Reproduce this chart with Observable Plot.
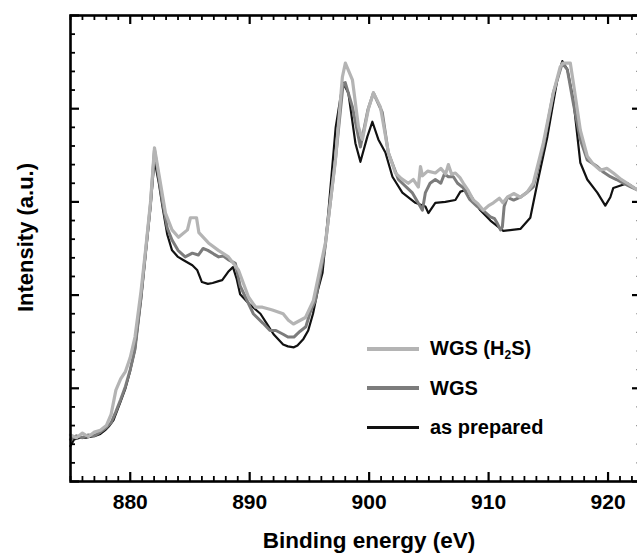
<!DOCTYPE html>
<html>
<head>
<meta charset="utf-8">
<script src="https://cdn.jsdelivr.net/npm/d3@7"></script>
<script src="https://cdn.jsdelivr.net/npm/@observablehq/plot@0.6"></script>
<style>
html, body { margin: 0; padding: 0; background: #fff; overflow: hidden; }
#wrap { position: relative; width: 637px; height: 554px; overflow: hidden; }
#wrap svg { display: block; }
#wrap svg text { font-family: Arial, "Liberation Sans", sans-serif; font-weight: bold; fill: #000; }
.legend { position: absolute; left: 367px; top: 329px; font-family: Arial, "Liberation Sans", sans-serif; font-weight: bold; font-size: 20px; color: #000; }
.legend .row { display: flex; align-items: center; height: 39.5px; }
.legend .sw { width: 52px; height: 3px; margin-right: 11px; }
.legend sub { font-size: 12px; vertical-align: -4px; line-height: 0; }
</style>
</head>
<body>
<div id="wrap"></div>
<script>
// Series names and colours
const seriesNames = ["WGS (H2S)", "WGS", "as prepared"];
const seriesLabelsHtml = ["WGS (H<sub>2</sub>S)", "WGS", "as prepared"];
const seriesColors = ["#b4b4b4", "#7c7c7c", "#111111"];
const seriesWidths = [3.2, 3, 2.2];

// Axis ticks
const xMajorTicks = [880, 890, 900, 910, 920];
const yMajorTicks = [0, 1, 2, 3, 4, 5];

// as prepared (black)
const energyPrepared = [875.0,875.3,875.8,876.3,876.7,877.1,877.5,877.9,878.2,878.6,879.2,879.6,880.0,880.4,880.9,881.3,881.7,882.03,882.4,882.7,883.1,883.5,884.0,884.4,885.2,885.6,886.0,886.5,886.9,887.4,887.7,888.2,888.6,888.9,889.2,890.0,890.9,891.5,892.0,892.8,893.2,893.7,894.0,894.5,894.9,895.3,895.7,896.1,896.6,897.2,897.8,898.26,898.85,899.27,899.85,900.27,900.77,901.36,901.95,902.78,903.87,904.71,904.96,905.54,906.38,907.22,907.64,908.2,909.31,910.15,911.23,912.66,913.49,914.08,914.92,915.75,916.17,916.59,917.09,917.68,918.26,919.1,919.77,920.19,920.44,921.61,922.45,922.8];
const intensityPrepared = [0.38,0.45,0.47,0.47,0.48,0.49,0.51,0.55,0.59,0.66,0.86,1.0,1.19,1.42,1.95,2.45,2.95,3.45,3.2,2.95,2.65,2.48,2.41,2.38,2.32,2.27,2.14,2.12,2.13,2.15,2.16,2.25,2.3,2.18,2.01,1.9,1.8,1.68,1.58,1.47,1.45,1.44,1.46,1.53,1.62,1.8,2.05,2.24,2.91,3.8,4.28,4.17,3.63,3.43,3.7,3.86,3.67,3.53,3.27,3.1,2.99,2.95,2.88,2.99,3.0,3.02,3.11,3.13,2.91,2.8,2.69,2.71,2.83,3.2,3.7,4.31,4.51,4.42,4.1,3.42,3.24,3.1,2.96,3.05,3.15,3.2,3.13,3.12];

// WGS (medium grey)
const energyWGS = [875.0,875.5,876.0,876.5,877.0,877.5,878.0,878.4,878.8,879.2,879.6,880.0,880.4,880.9,881.3,881.7,882.03,882.4,882.7,883.1,883.5,884.0,884.6,885.2,885.7,886.1,886.5,887.0,887.4,887.8,888.2,888.8,889.2,889.9,890.3,891.1,891.7,892.2,892.8,893.2,893.7,894.2,894.7,895.1,895.5,896.3,897.2,897.8,898.0,898.6,899.27,899.9,900.36,901.1,901.6,902.45,903.6,904.1,904.46,904.71,905.1,905.54,906.0,906.3,906.63,907.05,907.4,907.89,908.4,909.06,909.6,910.15,910.5,910.73,911.0,911.15,911.3,911.57,912.1,912.66,913.2,913.74,914.58,915.42,916.17,916.59,917.09,917.68,918.26,919.1,919.6,920.19,920.7,921.28,921.9,922.45,922.8];
const intensityWGS = [0.45,0.49,0.47,0.5,0.49,0.53,0.58,0.63,0.75,0.88,1.02,1.2,1.42,1.97,2.48,2.98,3.56,3.25,3.0,2.72,2.59,2.48,2.41,2.45,2.43,2.5,2.48,2.44,2.41,2.42,2.38,2.34,2.1,1.91,1.8,1.7,1.62,1.62,1.58,1.55,1.55,1.61,1.66,1.83,1.94,2.5,3.48,4.24,4.28,4.02,3.59,3.99,4.17,3.96,3.53,3.24,3.1,2.99,2.91,3.1,3.2,3.24,3.2,3.3,3.27,3.27,3.2,3.15,3.03,2.95,2.9,2.84,2.82,2.77,2.7,2.73,2.95,3.05,3.02,3.05,3.1,3.16,3.59,4.17,4.49,4.42,4.06,3.67,3.45,3.38,3.32,3.27,3.24,3.2,3.16,3.13,3.12];

// WGS (H2S) (light grey)
const energyH2S = [875.0,875.5,876.0,876.5,877.0,877.5,878.0,878.4,878.8,879.2,879.6,880.0,880.4,880.9,881.3,881.7,882.03,882.4,882.95,883.5,884.04,884.79,885.04,885.55,885.75,886.55,887.38,888.22,889.06,889.9,890.5,891.07,891.9,892.8,893.24,893.66,894.67,895.33,896.34,897.18,897.76,898.01,898.6,899.1,899.44,899.94,900.36,900.94,901.61,902.2,902.7,903.28,903.7,904.12,904.3,904.46,904.9,905.54,906.0,906.4,906.63,906.9,907.22,907.6,907.89,908.3,908.72,909.1,909.56,910.0,910.4,910.9,911.2,911.57,912.1,912.66,913.2,913.74,914.58,915.42,916.0,916.26,916.84,917.09,917.68,918.26,918.8,919.35,919.9,920.44,921.0,921.61,922.45,922.8];
const intensityH2S = [0.5,0.47,0.52,0.48,0.53,0.55,0.6,0.72,0.98,1.1,1.18,1.33,1.55,2.04,2.5,3.0,3.58,3.3,2.88,2.7,2.62,2.7,2.83,2.83,2.67,2.56,2.48,2.41,2.27,1.98,1.87,1.87,1.84,1.8,1.73,1.69,1.76,1.94,2.56,3.45,4.34,4.49,4.31,3.81,3.67,4.0,4.17,4.02,3.53,3.31,3.25,3.2,3.24,3.16,3.38,3.28,3.33,3.31,3.36,3.3,3.4,3.3,3.31,3.26,3.2,3.12,3.02,2.98,2.91,2.96,2.99,3.04,2.99,3.05,3.09,3.05,3.1,3.2,3.63,4.17,4.45,4.49,4.49,4.28,3.77,3.49,3.4,3.34,3.36,3.31,3.25,3.2,3.13,3.12];

function rows(es, vs, name) {
  const n = Math.min(es.length, vs.length);
  const out = [];
  for (let i = 0; i < n; i++) out.push({energy: es[i], intensity: vs[i], series: name});
  return out;
}
const dataH2S = rows(energyH2S, intensityH2S, seriesNames[0]);
const dataWGS = rows(energyWGS, intensityWGS, seriesNames[1]);
const dataPrep = rows(energyPrepared, intensityPrepared, seriesNames[2]);

const W = 637, H = 554;
// the right edge of the frame lies just outside the picture, as in the original
const mL = 70, mR = -4, mT = 15, mB = 73;
const innerW = W - mL - mR, innerH = H - mT - mB;
const majorLen = 9, minorLen = 5;

const xMinorTicks = d3.range(875, 923, 1).filter(d => !xMajorTicks.includes(d));
const yMinorTicks = d3.range(0, 5.001, 0.2).map(d => +d.toFixed(1)).filter(d => !yMajorTicks.includes(d));

const chart = Plot.plot({
  width: W, height: H,
  marginLeft: mL, marginRight: mR, marginTop: mT, marginBottom: mB,
  x: {domain: [875, 922.8], axis: null},
  y: {domain: [0, 5], axis: null},
  marks: [
    // data lines
    Plot.line(dataPrep, {x: "energy", y: "intensity", stroke: seriesColors[2], strokeWidth: seriesWidths[2], strokeLinejoin: "round"}),
    Plot.line(dataWGS, {x: "energy", y: "intensity", stroke: seriesColors[1], strokeWidth: seriesWidths[1], strokeLinejoin: "round"}),
    Plot.line(dataH2S, {x: "energy", y: "intensity", stroke: seriesColors[0], strokeWidth: seriesWidths[0], strokeLinejoin: "round"}),
    // frame
    Plot.frame({stroke: "#000", strokeWidth: 2.6}),
    // bottom ticks (inward)
    Plot.tickX(xMajorTicks, {x: d => d, insetTop: innerH - majorLen, stroke: "#000", strokeWidth: 2.2}),
    Plot.tickX(xMinorTicks, {x: d => d, insetTop: innerH - minorLen, stroke: "#000", strokeWidth: 1.8}),
    // top ticks (inward)
    Plot.tickX(xMajorTicks, {x: d => d, insetBottom: innerH - majorLen, stroke: "#000", strokeWidth: 2.2}),
    Plot.tickX(xMinorTicks, {x: d => d, insetBottom: innerH - minorLen, stroke: "#000", strokeWidth: 1.8}),
    // left ticks (inward)
    Plot.tickY(yMajorTicks, {y: d => d, insetRight: innerW - majorLen, stroke: "#000", strokeWidth: 2.2}),
    Plot.tickY(yMinorTicks, {y: d => d, insetRight: innerW - minorLen, stroke: "#000", strokeWidth: 1.8}),
    // right ticks (inward)
    Plot.tickY(yMajorTicks, {y: d => d, insetLeft: innerW - majorLen, stroke: "#000", strokeWidth: 2.2}),
    Plot.tickY(yMinorTicks, {y: d => d, insetLeft: innerW - minorLen, stroke: "#999", strokeWidth: 1.2}),
    // tick labels
    Plot.text(xMajorTicks, {x: d => d, text: d => String(d), frameAnchor: "bottom", lineAnchor: "top", dy: 13, fontSize: 21, fontWeight: "bold"}),
    // axis titles
    Plot.text(["Binding energy (eV)"], {frameAnchor: "bottom", textAnchor: "middle", lineAnchor: "middle", dx: 13, dy: 59, fontSize: 22.5, fontWeight: "bold"}),
    Plot.text(["Intensity (a.u.)"], {frameAnchor: "left", textAnchor: "middle", lineAnchor: "middle", rotate: -90, dx: -45, dy: -11, fontSize: 22, fontWeight: "bold"})
  ]
});

const wrap = document.getElementById("wrap");
wrap.appendChild(chart);

// legend overlay
const legend = document.createElement("div");
legend.className = "legend";
seriesNames.forEach((name, i) => {
  const row = document.createElement("div");
  row.className = "row";
  const sw = document.createElement("div");
  sw.className = "sw";
  sw.style.background = seriesColors[i];
  sw.style.height = (i === 2 ? 3 : 4) + "px";
  const lab = document.createElement("span");
  lab.innerHTML = seriesLabelsHtml[i];
  row.appendChild(sw);
  row.appendChild(lab);
  legend.appendChild(row);
});
wrap.appendChild(legend);
</script>
</body>
</html>
